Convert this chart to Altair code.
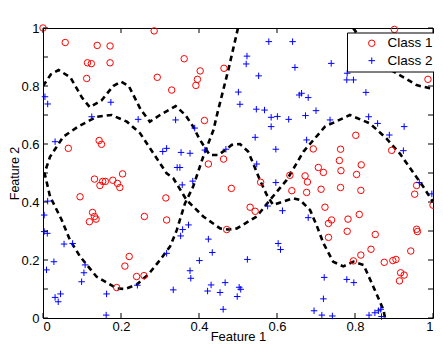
import altair as alt
import pandas as pd

# ---- data ----
class1_x = [0.0, 0.057, 0.114, 0.124, 0.139, 0.172, 0.172, 0.112, 0.285, 0.293, 0.33,
            0.362, 0.403, 0.396, 0.392, 0.464, 0.414, 0.901, 0.987,
            0.065, 0.144, 0.15, 0.132, 0.153, 0.16, 0.146, 0.179, 0.191, 0.197, 0.204, 0.095,
            0.127, 0.132, 0.136, 0.119, 0.26, 0.315, 0.317,
            0.424, 0.463, 0.483, 0.558, 0.531, 0.544, 0.633, 0.638, 0.471,
            0.802, 0.693, 0.763, 0.76, 0.816, 0.706, 0.719, 0.764, 0.804, 0.672, 0.678, 0.676,
            0.713, 0.763, 0.815, 0.894, 0.958, 0.953, 1.0, 0.723, 0.74, 0.732, 0.782, 0.811, 0.958,
            0.221, 0.21, 0.24, 0.259, 0.189,
            0.78, 0.732, 0.852, 0.96, 0.841, 0.815, 0.796, 0.943, 0.875, 0.897, 0.905, 0.917, 0.926, 0.914]
class1_y = [1.0, 0.95, 0.88, 0.877, 0.94, 0.938, 0.88, 0.826, 0.99, 0.83, 0.786,
            0.894, 0.852, 0.823, 0.802, 0.861, 0.681, 0.995, 0.823,
            0.585, 0.612, 0.599, 0.479, 0.471, 0.471, 0.457, 0.475, 0.464, 0.45, 0.497, 0.418,
            0.364, 0.35, 0.341, 0.332, 0.35, 0.414, 0.338,
            0.531, 0.548, 0.447, 0.468, 0.382, 0.368, 0.492, 0.439, 0.305,
            0.63, 0.583, 0.582, 0.543, 0.528, 0.519, 0.502, 0.508, 0.495, 0.49, 0.469, 0.433,
            0.444, 0.45, 0.44, 0.578, 0.457, 0.427, 0.389, 0.382, 0.338, 0.326, 0.341, 0.357, 0.306,
            0.212, 0.179, 0.143, 0.146, 0.105,
            0.299, 0.278, 0.288, 0.298, 0.237, 0.217, 0.197, 0.231, 0.192, 0.198, 0.202, 0.156, 0.148, 0.128]

class2_x = [0.005, 0.012, 0.125, 0.174, 0.244,
            0.579, 0.64, 0.523, 0.521, 0.646, 0.553, 0.501, 0.505, 0.547, 0.568, 0.585, 0.601, 0.63,
            0.585, 0.34, 0.389, 0.657,
            0.739, 0.78, 0.779, 0.796, 0.828, 0.663, 0.68, 0.7, 0.673, 0.736, 0.835, 0.858, 0.926,
            0.031, 0.012, 0.003, 0.307, 0.317,
            0.544, 0.354, 0.377, 0.415, 0.469, 0.597, 0.344, 0.351, 0.548, 0.384, 0.357, 0.597,
            0.576, 0.614, 0.373, 0.358,
            0.676, 0.888, 0.924, 0.965, 0.997, 0.68,
            0.003, 0.011, 0.028, 0.009, 0.054, 0.076, 0.108, 0.105, 0.099, 0.031, 0.039, 0.045,
            0.163, 0.162, 0.242, 0.317,
            0.353, 0.424, 0.434, 0.401, 0.524, 0.603, 0.609, 0.377, 0.379, 0.334, 0.431, 0.422,
            0.467, 0.454, 0.503, 0.507, 0.498, 0.462,
            0.721, 0.779, 0.797, 0.719, 0.695, 0.715, 0.742, 0.836, 0.851, 0.86, 0.866, 0.868]
class2_y = [0.763, 0.738, 0.694, 0.744, 0.685,
            0.953, 0.953, 0.903, 0.876, 0.864, 0.835, 0.779, 0.737, 0.72, 0.717, 0.692, 0.695, 0.685,
            0.66, 0.683, 0.655, 0.769,
            0.878, 0.844, 0.821, 0.821, 0.778, 0.775, 0.76, 0.715, 0.698, 0.683, 0.694, 0.671, 0.66,
            0.608, 0.403, 0.355, 0.574, 0.585,
            0.623, 0.571, 0.568, 0.579, 0.582, 0.582, 0.519, 0.519, 0.531, 0.472, 0.459, 0.467,
            0.386, 0.37, 0.321, 0.305,
            0.614, 0.631, 0.577, 0.467, 0.428, 0.346,
            0.298, 0.292, 0.194, 0.166, 0.255, 0.257, 0.183, 0.156, 0.125, 0.071, 0.056, 0.083,
            0.083, 0.01, 0.113, 0.223,
            0.283, 0.272, 0.226, 0.198, 0.202, 0.257, 0.236, 0.163, 0.137, 0.097, 0.114, 0.093,
            0.122, 0.088, 0.106, 0.099, 0.074, 0.03,
            0.14, 0.133, 0.122, 0.066, 0.025, 0.01, 0.007, 0.01, 0.018, 0.025, 0.03, 0.005]

# decision boundary curves (in drawing order)
curve1_x = [0.50, 0.476, 0.446, 0.437, 0.411, 0.385, 0.364, 0.343, 0.326, 0.30, 0.27, 0.24, 0.21,
            0.189, 0.137, 0.095, 0.069, 0.048, 0.018, 0.004, 0.018, 0.052, 0.09, 0.138, 0.176,
            0.215, 0.249, 0.283, 0.317, 0.334, 0.368, 0.411, 0.454, 0.475, 0.497, 0.548, 0.582,
            0.625, 0.668, 0.723, 0.787, 0.838, 0.88, 0.915, 0.95, 0.975, 1.0]
curve1_y = [1.0, 0.86, 0.70, 0.648, 0.557, 0.453, 0.395, 0.303, 0.247, 0.20, 0.15, 0.115, 0.10,
            0.102, 0.143, 0.212, 0.269, 0.338, 0.419, 0.50, 0.556, 0.625, 0.66, 0.694, 0.70,
            0.677, 0.637, 0.568, 0.499, 0.482, 0.407, 0.35, 0.309, 0.305, 0.309, 0.35, 0.407,
            0.476, 0.574, 0.66, 0.70, 0.671, 0.62, 0.567, 0.50, 0.453, 0.40]
curve2_x = [0.0, 0.02, 0.04, 0.07, 0.10, 0.12, 0.15, 0.18, 0.20, 0.22, 0.25, 0.274, 0.30, 0.34,
            0.365, 0.385, 0.40, 0.419, 0.428, 0.449, 0.467, 0.484, 0.505, 0.526, 0.539, 0.556,
            0.574, 0.59, 0.616, 0.642, 0.659, 0.685, 0.702, 0.719, 0.744, 0.77, 0.796, 0.822,
            0.847, 0.873, 0.877]
curve2_y = [0.80, 0.84, 0.855, 0.83, 0.76, 0.727, 0.75, 0.80, 0.815, 0.80, 0.72, 0.677, 0.70, 0.731,
            0.70, 0.66, 0.62, 0.579, 0.562, 0.562, 0.579, 0.597, 0.60, 0.574, 0.533, 0.476,
            0.424, 0.39, 0.402, 0.413, 0.407, 0.372, 0.318, 0.258, 0.194, 0.178, 0.194, 0.183,
            0.108, 0.028, 0.0]
curve3_x = [0.795, 0.84, 0.885, 0.928, 0.958, 0.992, 1.0]
curve3_y = [1.0, 0.92, 0.861, 0.827, 0.803, 0.792, 0.79]

x_ticks = [0, 0.2, 0.4, 0.6, 0.8, 1]
y_ticks = [0, 0.1, 0.2, 0.3, 0.4, 0.5, 0.6, 0.7, 0.8, 0.9, 1]

FONT = "Liberation Sans"

pts = pd.DataFrame({
    "x": class1_x + class2_x,
    "y": class1_y + class2_y,
    "cls": ["Class 1"] * len(class1_x) + ["Class 2"] * len(class2_x),
})

rows = []
for cid, (cx, cy) in enumerate([(curve1_x, curve1_y), (curve2_x, curve2_y), (curve3_x, curve3_y)]):
    for i, (a, b) in enumerate(zip(cx, cy)):
        rows.append({"x": a, "y": b, "curve": cid, "idx": i})
curves = pd.DataFrame(rows)

xs = alt.Scale(domain=[0, 1], nice=False, zero=False)
ys = alt.Scale(domain=[0, 1], nice=False, zero=False)

LBL = "(datum.value == 0 || datum.value == 1) ? format(datum.value, 'd') : format(datum.value, '.1f')"

xaxis = alt.Axis(values=x_ticks, grid=False, ticks=False, domain=False,
                 labelExpr=LBL,
                 labelFont=FONT, labelFontSize=13, labelColor="black", labelPadding=2,
                 title="Feature 1", titleFont=FONT, titleFontSize=13, titleFontWeight="normal",
                 titleColor="black", titleBaseline="alphabetic", titleY=22.5)
yaxis = alt.Axis(values=y_ticks, grid=False, ticks=False, domain=False,
                 labelExpr=LBL,
                 labelFont=FONT, labelFontSize=13, labelColor="black", labelPadding=4,
                 title="Feature 2", titleFont=FONT, titleFontSize=12.5, titleFontWeight="normal",
                 titleColor="black", titleBaseline="alphabetic", titleX=-25)

lines = alt.Chart(curves).mark_line(
    color="black", strokeWidth=2.6, strokeDash=[5.5, 4], clip=True
).encode(
    x=alt.X("x:Q", scale=xs, axis=xaxis),
    y=alt.Y("y:Q", scale=ys, axis=yaxis),
    detail="curve:N",
    order="idx:Q",
)

points = alt.Chart(pts).mark_point(filled=False, strokeWidth=1, size=42, opacity=1).encode(
    x=alt.X("x:Q", scale=xs),
    y=alt.Y("y:Q", scale=ys),
    color=alt.Color("cls:N", scale=alt.Scale(domain=["Class 1", "Class 2"], range=["#ff0000", "#0000ff"]),
                    legend=alt.Legend(orient="none", legendX=304, legendY=4.5, title=None,
                                      fillColor="white", strokeColor="black", padding=4,
                                      symbolOffset=14, labelOffset=9, labelFont=FONT,
                                      labelFontSize=13.5, labelColor="black", rowPadding=2.4,
                                      symbolStrokeWidth=1, symbolSize=42)),
    shape=alt.Shape("cls:N", scale=alt.Scale(domain=["Class 1", "Class 2"],
                                              range=["circle", "M-1,0L1,0M0,-1L0,1"])),
)

tickdf_x = pd.DataFrame({"t": x_ticks})
tickdf_y = pd.DataFrame({"t": y_ticks})
tb = alt.Chart(tickdf_x).mark_rule(color="black", strokeWidth=1).encode(
    x=alt.X("t:Q", scale=xs), y=alt.value(290), y2=alt.value(285))
tt = alt.Chart(tickdf_x).mark_rule(color="black", strokeWidth=1).encode(
    x=alt.X("t:Q", scale=xs), y=alt.value(0), y2=alt.value(5))
tl = alt.Chart(tickdf_y).mark_rule(color="black", strokeWidth=1).encode(
    y=alt.Y("t:Q", scale=ys), x=alt.value(0), x2=alt.value(5))
tr = alt.Chart(tickdf_y).mark_rule(color="black", strokeWidth=1).encode(
    y=alt.Y("t:Q", scale=ys), x=alt.value(390), x2=alt.value(385))

chart = alt.layer(lines, points, tb, tt, tl, tr).properties(
    width=390, height=290,
    autosize=alt.AutoSizeParams(type="none"),
    padding={"left": 35, "top": 20, "right": 1, "bottom": 26},
    background="white",
).configure_view(stroke="black", strokeWidth=1)

chart.save("out.html", embed_options={"renderer": "svg", "actions": False})
